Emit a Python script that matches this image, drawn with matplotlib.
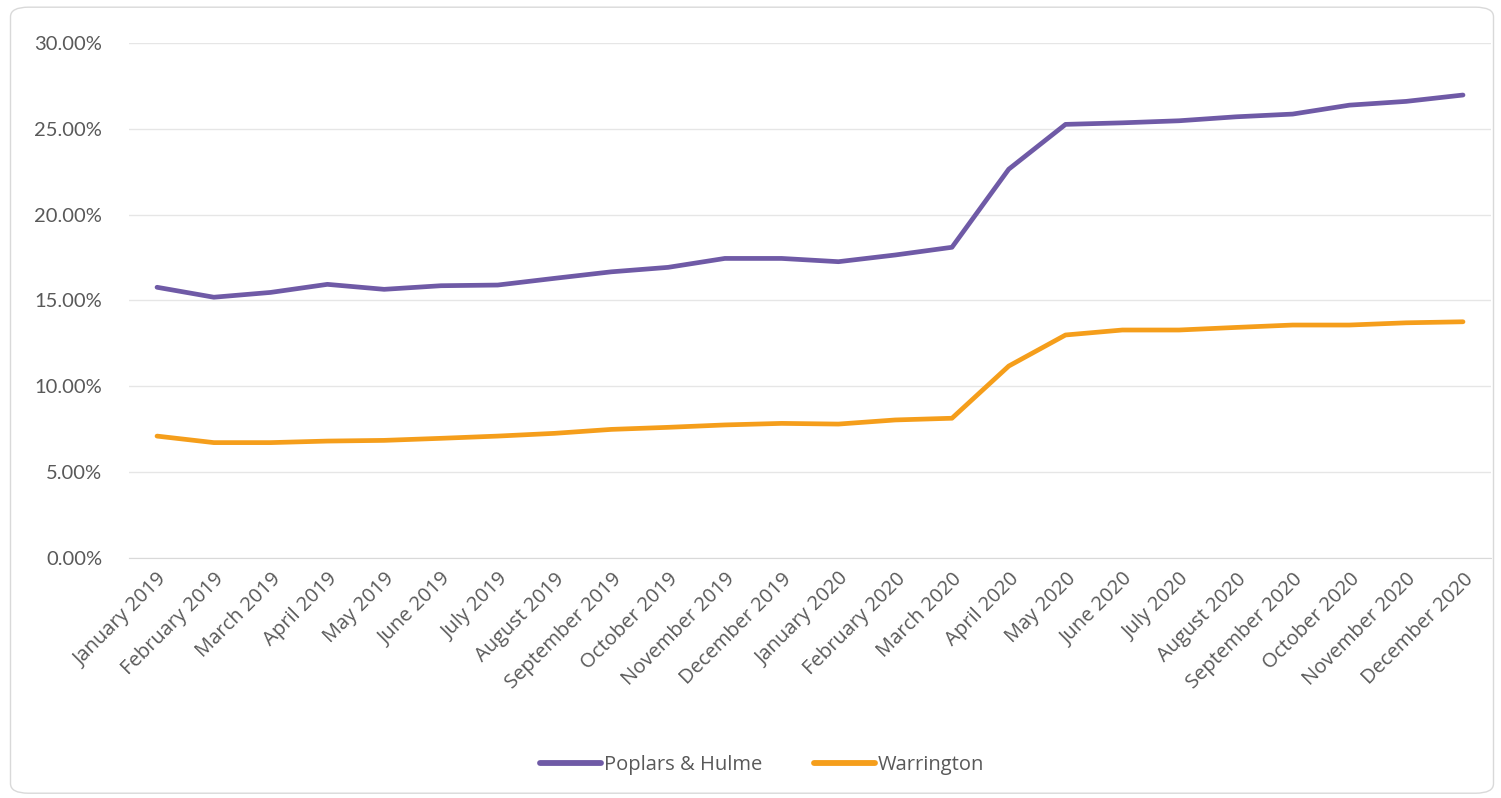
import matplotlib.pyplot as plt
from matplotlib.patches import FancyBboxPatch
from matplotlib.ticker import FuncFormatter

months = ["January 2019", "February 2019", "March 2019", "April 2019", "May 2019",
          "June 2019", "July 2019", "August 2019", "September 2019", "October 2019",
          "November 2019", "December 2019", "January 2020", "February 2020",
          "March 2020", "April 2020", "May 2020", "June 2020", "July 2020",
          "August 2020", "September 2020", "October 2020", "November 2020",
          "December 2020"]

# rates in percent
poplars_hulme = [15.77, 15.19, 15.47, 15.94, 15.65, 15.86, 15.90, 16.29, 16.67, 16.93,
                 17.45, 17.45, 17.26, 17.65, 18.10, 22.65, 25.26, 25.35, 25.47, 25.70,
                 25.86, 26.38, 26.60, 26.97]
warrington = [7.10, 6.72, 6.72, 6.81, 6.85, 6.97, 7.10, 7.26, 7.49, 7.61,
              7.75, 7.84, 7.80, 8.04, 8.14, 11.18, 12.99, 13.28, 13.28, 13.43,
              13.57, 13.57, 13.70, 13.76]

series_names = ["Poplars & Hulme", "Warrington"]
colors = ["#6F5AA6", "#F59E1B"]

plt.rcParams['font.family'] = ['Lato', 'DejaVu Sans']
wide = ['Open Sans', 'DejaVu Sans']

fig = plt.figure(figsize=(15.01, 7.98), dpi=100)
ax = fig.add_axes([0.0857, 0.3008, 0.9079, 0.6453])

# rounded frame around the chart
frame = FancyBboxPatch((0.007, 0.006), 0.988, 0.985, boxstyle="round,pad=0,rounding_size=0.012",
                       transform=fig.transFigure, fill=False, edgecolor="#D9D9D9", lw=1.0,
                       zorder=0)
fig.patches.append(frame)

x = list(range(len(months)))
for vals, name, c in zip([poplars_hulme, warrington], series_names, colors):
    ax.plot(x, vals, color=c, lw=3.4, label=name, solid_capstyle='round', zorder=3)

ax.set_xlim(-0.5, len(months) - 0.5)
ax.set_ylim(0, 30)
ax.set_yticks(range(0, 31, 5))
ax.yaxis.set_major_formatter(FuncFormatter(lambda v, p: f"{v:.2f}%"))
ax.grid(axis='y', color="#E6E6E6", lw=1.0)
ax.set_axisbelow(True)

for s in ['top', 'right', 'left']:
    ax.spines[s].set_visible(False)
ax.spines['bottom'].set_color("#D9D9D9")

ax.tick_params(axis='both', length=0, colors="#595959")
ax.tick_params(axis='y', pad=19, labelsize=14.5)
ax.set_xticks(x)
ax.set_xticklabels(months, rotation=45, ha='right', rotation_mode='anchor',
                   family=wide, fontsize=14.5)
ax.tick_params(axis='x', pad=8)

leg = ax.legend(loc='upper center', bbox_to_anchor=(0.465, -0.347), ncol=2, frameon=False,
                prop={'family': wide, 'size': 14.5}, handlelength=3.0,
                handletextpad=0.15, columnspacing=2.6)
for t in leg.get_texts():
    t.set_color("#595959")
for h in leg.get_lines():
    h.set_linewidth(4.2)

fig.savefig("out.png", dpi=100)
